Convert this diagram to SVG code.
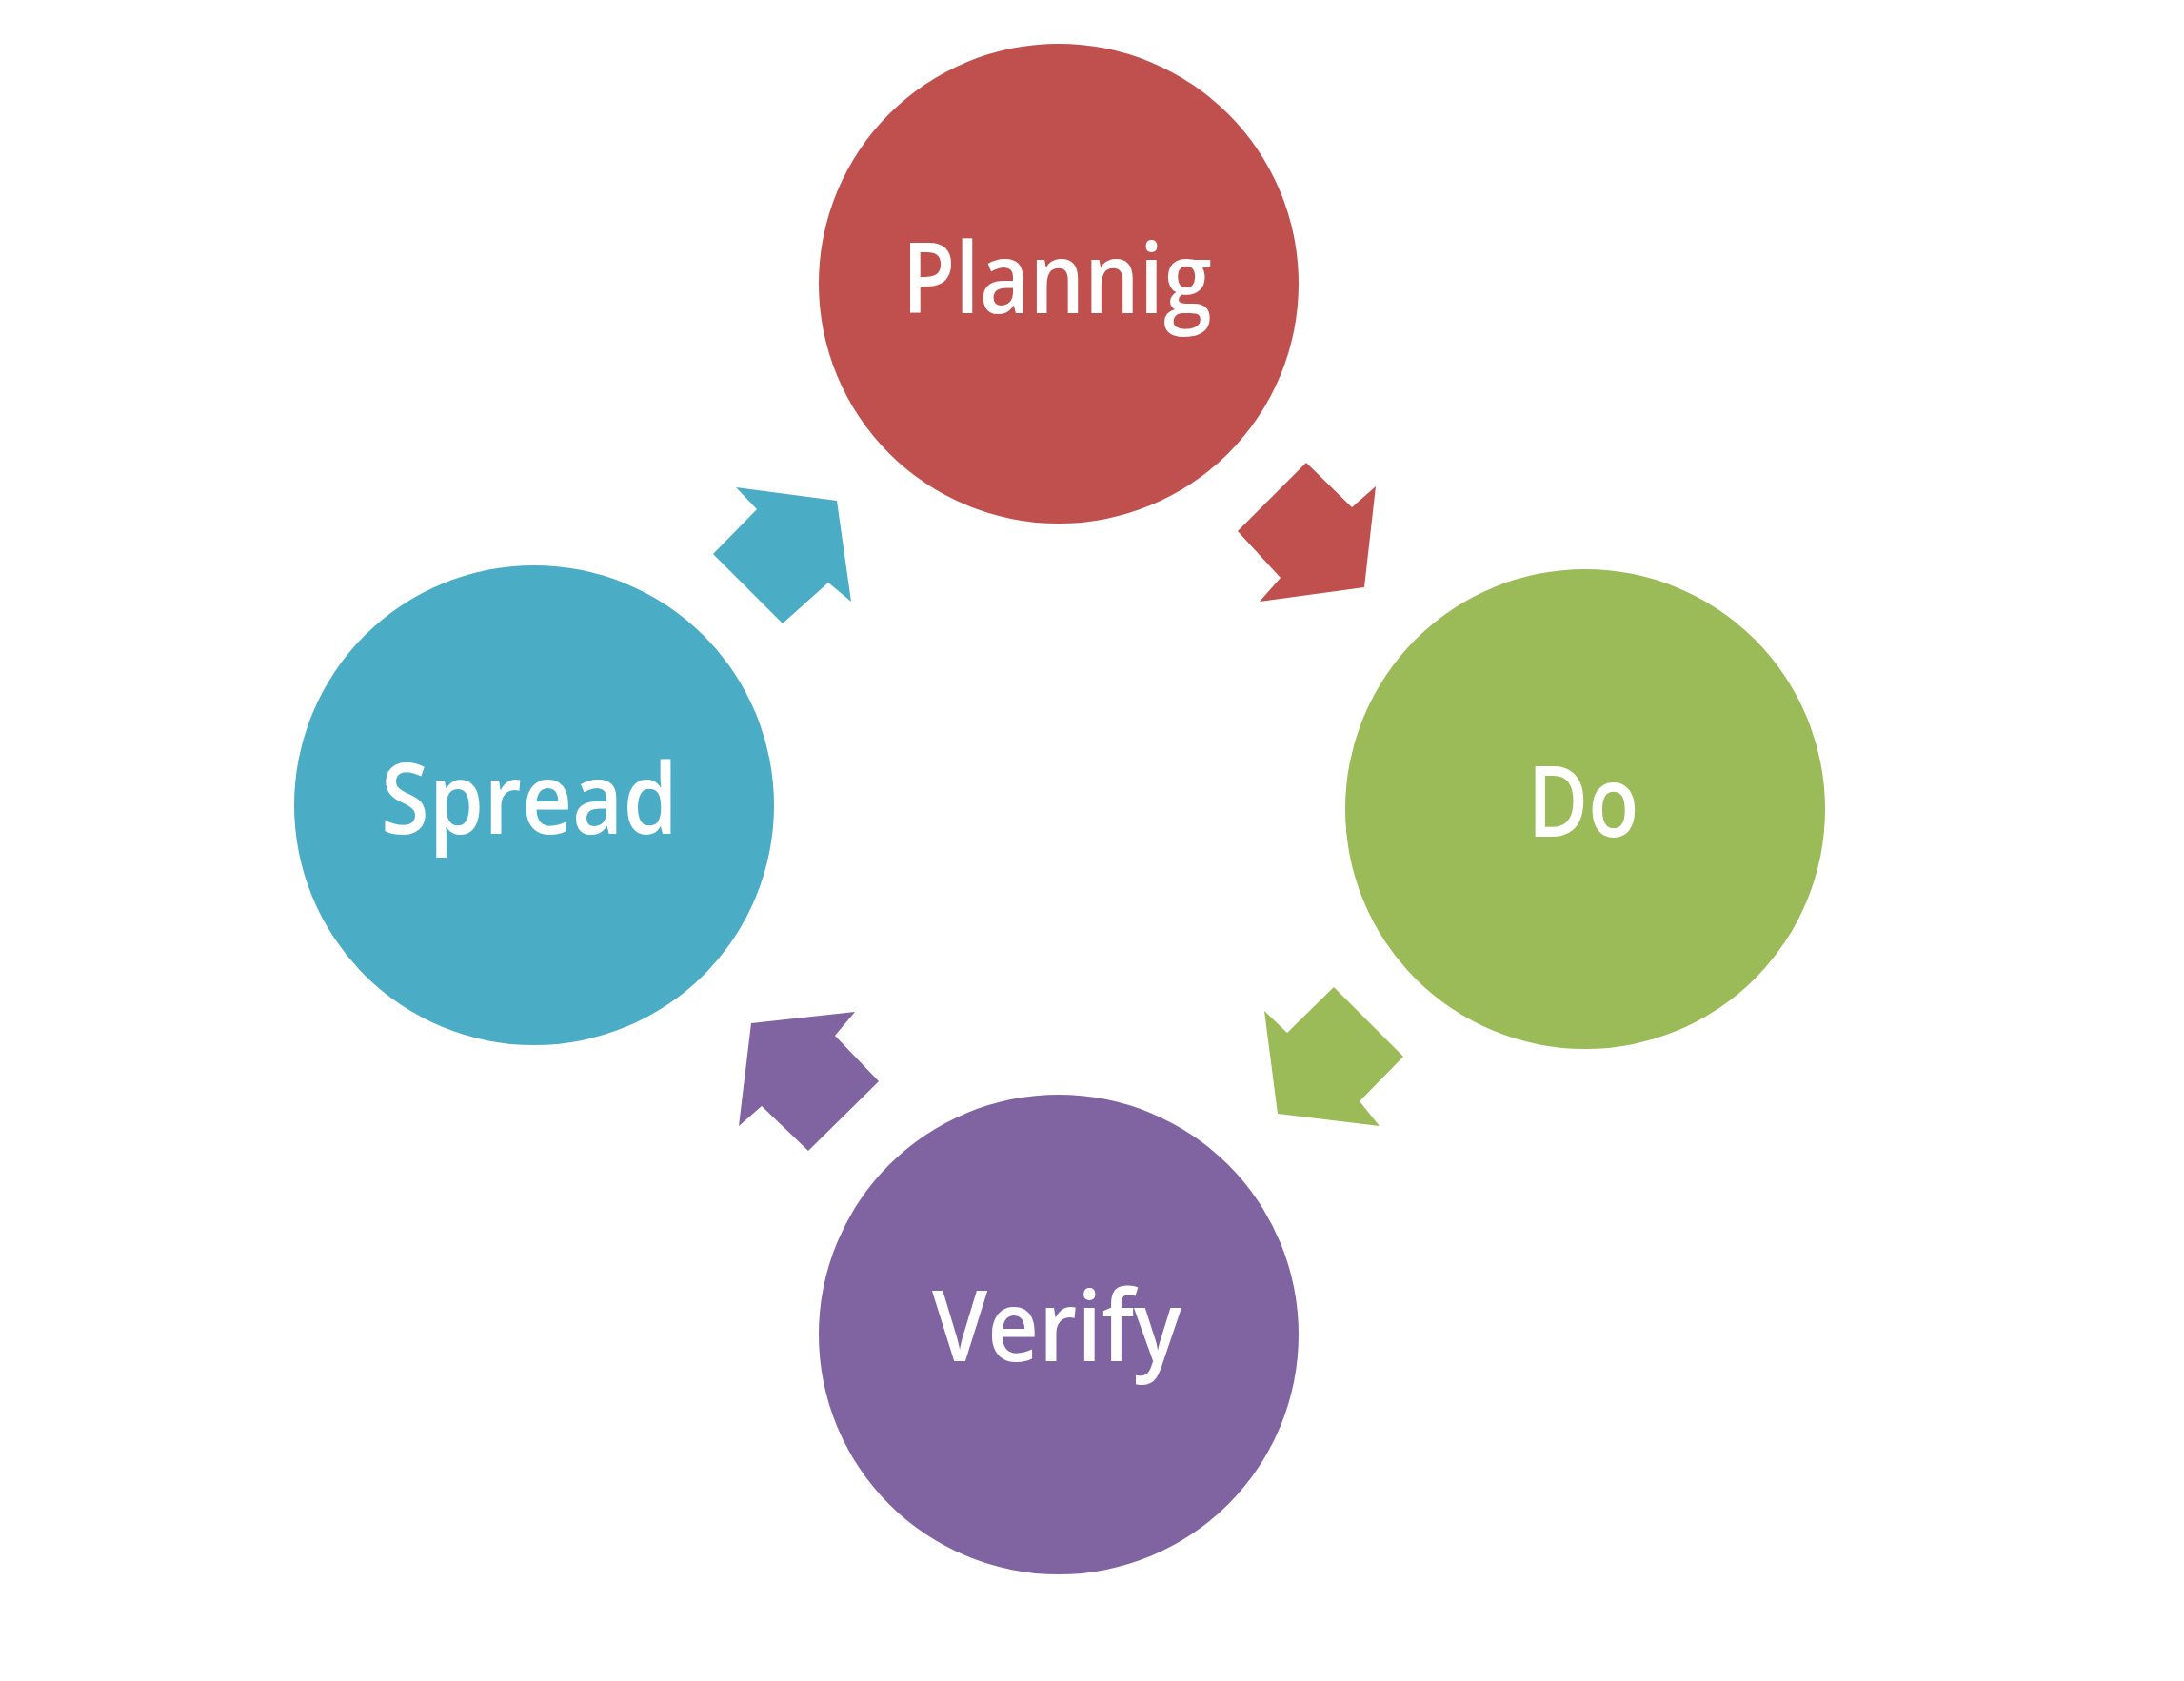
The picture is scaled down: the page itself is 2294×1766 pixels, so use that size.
<svg xmlns="http://www.w3.org/2000/svg" width="2294" height="1766" viewBox="0 0 2294 1766">
<style>
.lbl{font-family:"Open Sans","Noto Sans","Liberation Sans",sans-serif;font-size:104px;font-weight:600;fill:#ffffff;text-anchor:middle}
</style>
<rect width="2294" height="1766" fill="#ffffff"/>
<g id="connectors">
<polygon id="arrow-plan-do" fill="#C0504D" points="1300,558 1372,486 1420,533 1445,511 1433,617 1323,632 1345,607"/>
<polygon id="arrow-do-verify" fill="#9BBB59" points="1328,1062 1352,1085 1401,1037 1474,1110 1428,1157 1449,1183 1342,1170"/>
<polygon id="arrow-verify-spread" fill="#8064A2" points="898,1063 789,1075 776,1183 800,1162 849,1209 923,1136 877,1088"/>
<polygon id="arrow-spread-plan" fill="#4BACC6" points="773,512 795,535 749,582 822,655 870,612 894,632 879,526"/>
</g>
<g id="node-planning">
<circle cx="1112" cy="298" r="252" fill="#C0504D"/>
<text class="lbl" x="1110" y="329" textLength="325" lengthAdjust="spacingAndGlyphs">Plannig</text>
</g>
<g id="node-do">
<circle cx="1665" cy="850" r="252" fill="#9BBB59"/>
<text class="lbl" x="1663" y="879" textLength="117" lengthAdjust="spacingAndGlyphs">Do</text>
</g>
<g id="node-verify">
<circle cx="1112" cy="1402" r="252" fill="#8064A2"/>
<text class="lbl" x="1110" y="1430" textLength="262" lengthAdjust="spacingAndGlyphs">Verify</text>
</g>
<g id="node-spread">
<circle cx="561" cy="846" r="252" fill="#4BACC6"/>
<text class="lbl" x="556" y="876" textLength="312" lengthAdjust="spacingAndGlyphs">Spread</text>
</g>
</svg>
